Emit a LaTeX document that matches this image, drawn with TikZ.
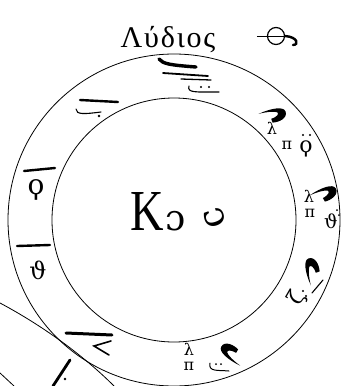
\documentclass[tikz,border=0pt]{standalone}
\usepackage{fontspec}
\setmainfont{Liberation Serif}
\newfontfamily\signes{DejaVu Serif}

\begin{document}
\begin{tikzpicture}[x=1pt, y=-1pt,
    cercle/.style={line width=0.8pt},
    barre/.style={line width=2.4pt, line cap=round},
    trait/.style={line width=1.1pt, line cap=round},
    lettre/.style={inner sep=0pt, font=\signes\fontsize{16}{16}\selectfont},
    crochet/.pic={
        \fill (-13,-6) .. controls (0,-7) and (13,-5) .. (13,1)
              .. controls (13,8) and (3,9) .. (-3,7)
              -- (-3,3) .. controls (4,3) and (6,1) .. (5,-1)
              .. controls (3,-3) and (-4,-5) .. (-13,-6) -- cycle;
    }]

    % Cadre de la figure
    \useasboundingbox (0,0) rectangle (344,386);
    \clip (0,0) rectangle (344,386);

    % Centre commun des deux anneaux
    \def\cx{174}
    \def\cy{220}
    \draw[cercle] (\cx,\cy) circle[radius=166];
    \draw[cercle] (\cx,\cy) circle[radius=122];

    % Titre et signe du mode
    \node[font=\fontsize{30}{30}\selectfont\addfontfeature{LetterSpace=6}, inner sep=0pt, anchor=base] (titre) at (168,47) {Λύδιος};
    \node[circle, draw, line width=1.2pt, minimum size=17pt, inner sep=0pt] (mode) at (276,36) {};
    \draw[line width=1pt] ([xshift=-10pt]mode.west) -- (mode.east);
    \draw[line width=2.4pt, line cap=round] (mode.east) .. controls (298,37) and (299,45) .. (293,45);

    % Nom au centre
    \node[font=\fontsize{58}{58}\selectfont, inner sep=0pt, anchor=base] (kappa) at (147,230) {\scalebox{0.8}[1]{Κ}};
    \node[font=\signes\fontsize{36}{36}\selectfont, inner sep=0pt, anchor=base] (omicron) at (176,230) {ɔ};
    \node[font=\signes\fontsize{36}{36}\selectfont, inner sep=0pt, rotate=-70] (upsilon) at (215,218) {ɔ};

    % Signe en haut
    \draw[barre, line width=3.4pt] (159,59) .. controls (163,64) and (170,65) .. (196,67);
    \draw[trait, line width=1.8pt] (163,73) -- (208,76);
    \draw[trait, line width=1.3pt] (181,79) -- (211,80);
    \draw[trait] (189,86) .. controls (187,93) and (195,92) .. (219,92);
    \fill (201,87) circle[radius=1.1];
    \fill (209,87) circle[radius=1.1];

    % Signe en haut a gauche
    \draw[barre] (80,100) -- (118,102);
    \draw[trait] (76,109) .. controls (76,115) and (85,114) .. (101,112);
    \fill (99,116) circle[radius=1.3];

    % Signe en haut a droite
    \pic[rotate=20] at (273,115) {crochet};
    \node[lettre, anchor=south] (l3) at (272,135) {λ};
    \node[lettre, anchor=north] (p3) at (287,141) {π};
    \node[lettre, font=\signes\fontsize{22}{22}\selectfont] (q3) at (306,149) {ϙ};
    \fill (303,135) circle[radius=1.2];
    \fill (310,135) circle[radius=1.2];

    % Signe a droite
    \pic[rotate=30] at (324,194) {crochet};
    \node[lettre, anchor=south] (l4) at (309,203) {λ};
    \node[lettre, anchor=north] (p4) at (310,209) {π};
    \node[lettre, font=\signes\fontsize{19}{19}\selectfont] (t4) at (331,221) {ϑ};
    \fill (337,210) circle[radius=1];
    \fill (339,215) circle[radius=1];

    % Signe en bas a droite
    \pic[rotate=110] at (312,271) {crochet};
    \draw[trait] (312,293) -- (323,280);
    \node[lettre, font=\signes\fontsize{22}{22}\selectfont, rotate=60] (z5) at (297,298) {ζ};
    \fill (303,291) circle[radius=1.1];
    \fill (306,296) circle[radius=1.1];

    % Signe en bas
    \node[lettre, anchor=south] (l6) at (189,356) {λ};
    \node[lettre, anchor=north] (p6) at (189,362) {π};
    \pic[rotate=150] at (232,354) {crochet};
    \draw[trait, line width=1pt] (210,363) .. controls (208,372) and (218,370) .. (229,371);
    \fill (216,364) circle[radius=1];
    \fill (221,364) circle[radius=1];

    % Signe en bas a gauche
    \draw[barre, line width=3pt] (66,333) -- (112,335);
    \draw[trait, line width=1.6pt] (111,341) -- (94,346) -- (109,355);

    % Signes a gauche
    \draw[barre] (17,246) -- (50,245);
    \node[lettre, font=\signes\fontsize{24}{24}\selectfont] (t8) at (38,270) {ϑ};
    \draw[barre] (24,171) -- (55,168);
    \node[lettre, font=\signes\fontsize{28}{28}\selectfont] (q9) at (36,190) {ϙ};

    % Morceaux de la figure voisine
    \draw[cercle] (0,303) .. controls (45,327) and (85,357) .. (114,386);
    \draw[cercle] (0,373) -- (14,386);
    \draw[barre, line width=2.8pt] (70,360) -- (53,386);
    \fill (65,379) circle[radius=1.3];

\end{tikzpicture}
\end{document}
